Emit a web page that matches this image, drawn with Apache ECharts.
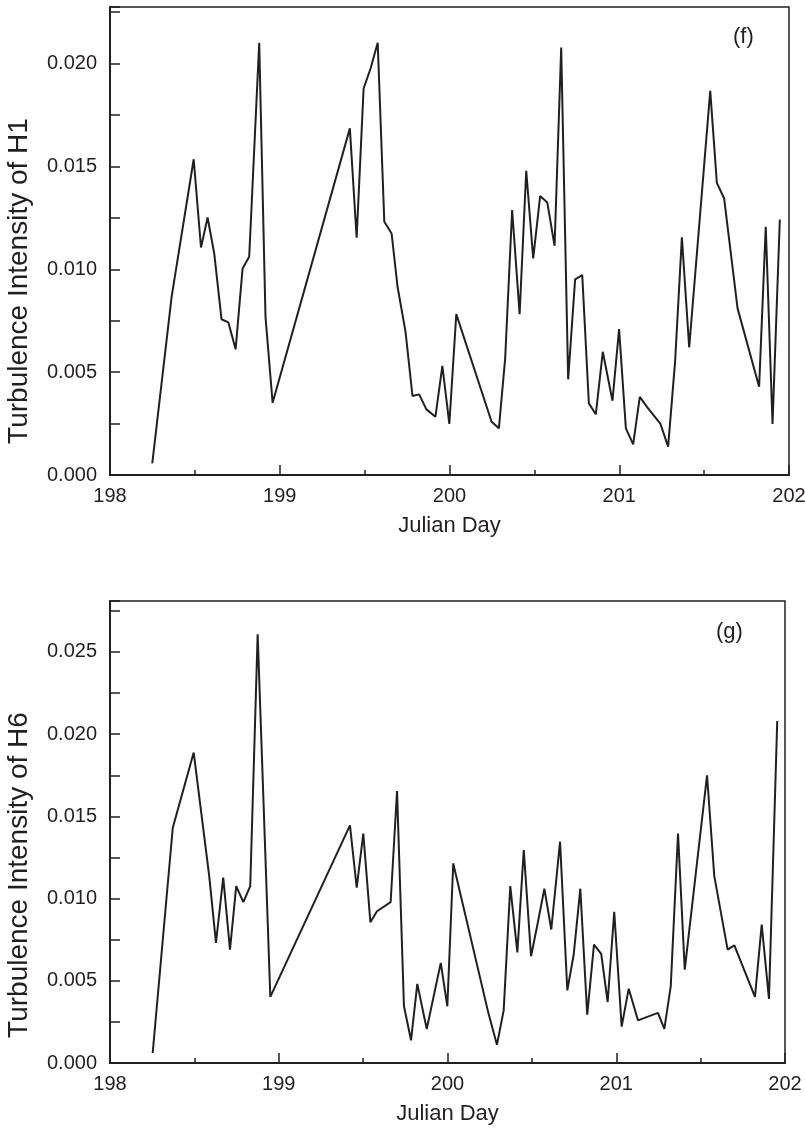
<!DOCTYPE html>
<html>
<head>
<meta charset="utf-8">
<script src="https://cdn.jsdelivr.net/npm/echarts@6/dist/echarts.min.js"></script>
<style>html,body{margin:0;padding:0;background:#fff}#c{width:805px;height:1130px}</style>
</head>
<body>
<div id="c"></div>
<script>
// Panel (f): Turbulence Intensity of H1
const daysH1 = [198.249,198.363,198.493,198.536,198.575,198.614,198.657,198.697,198.740,198.781,198.820,198.879,198.916,198.958,199.413,199.453,199.494,199.535,199.577,199.616,199.659,199.694,199.741,199.782,199.821,199.864,199.917,199.958,199.999,200.040,200.248,200.291,200.328,200.369,200.413,200.452,200.493,200.534,200.576,200.619,200.658,200.699,200.740,200.782,200.821,200.862,200.903,200.960,200.999,201.039,201.082,201.121,201.170,201.243,201.288,201.329,201.369,201.412,201.536,201.575,201.618,201.697,201.824,201.863,201.903,201.946];
const valsH1 = [0.00057,0.00866,0.01535,0.01106,0.01252,0.01077,0.00757,0.00742,0.00611,0.01004,0.01061,0.02101,0.00769,0.00351,0.01685,0.01153,0.01879,0.01976,0.02101,0.01231,0.01174,0.00915,0.00696,0.00384,0.00392,0.00319,0.00283,0.00531,0.00248,0.00782,0.00259,0.00227,0.00567,0.01288,0.00782,0.01479,0.01053,0.01356,0.01325,0.01114,0.02078,0.00465,0.00951,0.00972,0.00348,0.00295,0.00599,0.00361,0.00709,0.00227,0.00149,0.00380,0.00324,0.00248,0.00138,0.00551,0.01155,0.00620,0.01867,0.01420,0.01344,0.00810,0.00429,0.01207,0.00248,0.01242];
// Panel (g): Turbulence Intensity of H6
const daysH6 = [198.253,198.372,198.496,198.588,198.628,198.671,198.711,198.748,198.790,198.831,198.875,198.950,199.422,199.462,199.501,199.543,199.582,199.663,199.701,199.742,199.784,199.821,199.877,199.960,199.999,200.034,200.242,200.293,200.333,200.372,200.414,200.452,200.495,200.535,200.574,200.615,200.667,200.710,200.748,200.787,200.828,200.868,200.911,200.949,200.988,201.032,201.074,201.129,201.247,201.285,201.323,201.366,201.406,201.538,201.581,201.660,201.700,201.822,201.862,201.905,201.954];
const valsH6 = [0.00061,0.01431,0.01888,0.01137,0.00731,0.01127,0.00690,0.01076,0.00978,0.01076,0.02608,0.00402,0.01445,0.01066,0.01395,0.00856,0.00923,0.00978,0.01654,0.00345,0.00138,0.00481,0.00207,0.00609,0.00345,0.01214,0.00305,0.00111,0.00320,0.01076,0.00673,0.01295,0.00649,0.00853,0.01060,0.00812,0.01346,0.00442,0.00660,0.01060,0.00294,0.00720,0.00664,0.00371,0.00920,0.00221,0.00452,0.00259,0.00305,0.00207,0.00467,0.01395,0.00568,0.01750,0.01137,0.00690,0.00716,0.00402,0.00842,0.00390,0.02080];

const xTickLabels = ['198','199','200','201','202'];
const yLabelStep = 0.005;
const panelLabels = ['(f)','(g)'];
const yNames = ['Turbulence Intensity of H1','Turbulence Intensity of H6'];
const xName = 'Julian Day';

const FONT = "'Liberation Sans',Arial,sans-serif";
const INK = '#231f20';

function pair(xs, ys){ return xs.map((x,i)=>[x, ys[i]]); }

function xAxisCfg(gi){
  return {
    type:'value', gridIndex:gi, min:198, max:202, interval:1,
    name:xName, nameLocation:'middle', nameGap:40,
    nameTextStyle:{fontFamily:FONT, fontSize:22, color:INK},
    axisLine:{show:true, lineStyle:{color:INK, width:2}},
    axisTick:{show:true, inside:true, length:10, lineStyle:{color:INK, width:1.5}},
    minorTick:{show:true, splitNumber:2, length:5, lineStyle:{color:INK, width:1.5}},
    axisLabel:{fontFamily:FONT, fontSize:20, color:INK, margin:11,
      formatter:(v)=>{ const k = Math.round(v-198); return xTickLabels[k] ?? ''; }},
    splitLine:{show:false}, minorSplitLine:{show:false}
  };
}
function yAxisCfg(gi, max, nameShift){
  return {
    type:'value', gridIndex:gi, min:0, max:max, interval:0.0025,
    name:yNames[gi], nameLocation:'middle', nameGap:77,
    nameTextStyle:{fontFamily:FONT, fontSize:28, color:INK, padding:[0, nameShift, 0, 0]},
    axisLine:{show:true, lineStyle:{color:INK, width:2}},
    axisTick:{show:true, inside:true, length:10, lineStyle:{color:INK, width:1.5}},
    axisLabel:{fontFamily:FONT, fontSize:20, color:INK, margin:13, showMaxLabel:true,
      formatter:(v)=>{ const r = Math.round(v/yLabelStep)*yLabelStep; return Math.abs(r-v)<1e-9 ? v.toFixed(3) : ''; }},
    splitLine:{show:false}
  };
}

const chart = echarts.init(document.getElementById('c'), null, {renderer:'canvas'});
chart.setOption({
  backgroundColor:'#fff',
  animation:false,
  grid:[
    {left:110, right:16, top:7, height:468, show:true, borderColor:INK, borderWidth:1.5, backgroundColor:'transparent',
     containLabel:false, outerBoundsMode:'none'},
    {left:110, right:20, top:601, height:462, show:true, borderColor:INK, borderWidth:1.5, backgroundColor:'transparent',
     containLabel:false, outerBoundsMode:'none'}
  ],
  xAxis:[xAxisCfg(0), xAxisCfg(1)],
  yAxis:[yAxisCfg(0, 0.02275, 80), yAxisCfg(1, 0.0281, 86)],
  graphic:[
    {type:'text', left:733, top:26, style:{text:panelLabels[0], font:'22px '+FONT, fill:INK}},
    {type:'text', left:716, top:621, style:{text:panelLabels[1], font:'22px '+FONT, fill:INK}}
  ],
  series:[
    {type:'line', xAxisIndex:0, yAxisIndex:0, data:pair(daysH1, valsH1), showSymbol:false, symbol:'none',
     lineStyle:{color:INK, width:2}},
    {type:'line', xAxisIndex:1, yAxisIndex:1, data:pair(daysH6, valsH6), showSymbol:false, symbol:'none',
     lineStyle:{color:INK, width:2}}
  ]
});
</script>
</body>
</html>
